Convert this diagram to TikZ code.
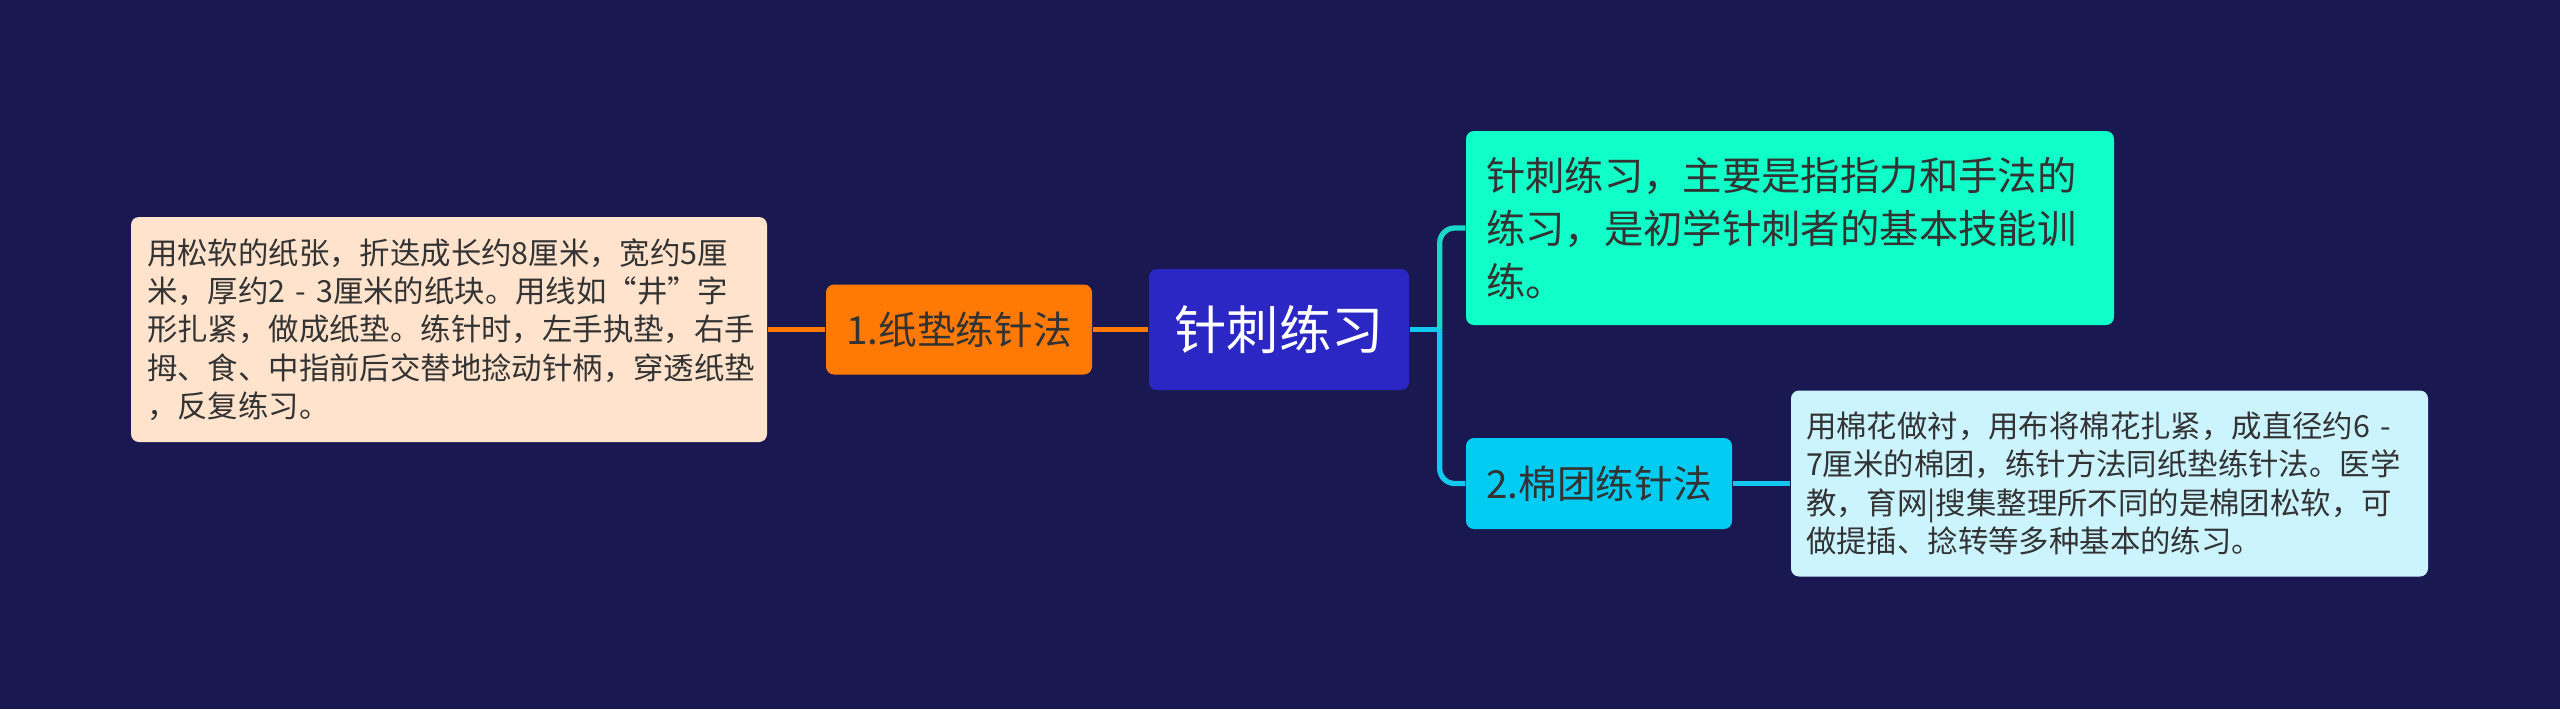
\documentclass[tikz,border=0pt]{standalone}
\usepackage{fontspec}
\setmainfont{Noto Sans CJK SC}
\usepackage{xcolor}
\usepackage{tikz}
\usetikzlibrary{calc}
\definecolor{bgnavy}{HTML}{1A1850}
\definecolor{rootblue}{HTML}{2A27C4}
\definecolor{orangefill}{HTML}{FF7A05}
\definecolor{peachfill}{HTML}{FFE3CD}
\definecolor{mintfill}{HTML}{10FFC8}
\definecolor{cyanfill}{HTML}{02CCF2}
\definecolor{icefill}{HTML}{CCF4FF}
\definecolor{tealline}{HTML}{18D9C8}
\definecolor{cyanline}{HTML}{12C8EE}
\definecolor{darktext}{HTML}{333333}

\begin{document}
\begin{tikzpicture}[
  box/.style={rounded corners=0.08cm, inner sep=0.16cm, text=darktext},
  leaftext/.style={box, align=left, font=\fontsize{8.65}{10.9}\selectfont},
  link/.style={line width=1.5pt}]
  \fill[bgnavy] (0,0) rectangle (25.6,7.09);
  \useasboundingbox (0,0) rectangle (25.6,7.09);
  % centre and the two branches
  \node[box, fill=rootblue, text=white, minimum width=2.6cm, minimum height=1.21cm,
    font=\fontsize{14.9}{18}\selectfont] (root) at (12.79,3.795) {针刺练习};
  \node[box, fill=orangefill, minimum width=2.66cm, minimum height=0.9cm,
    font=\fontsize{11}{13}\selectfont] (paper) at (9.59,3.795) {1.纸垫练针法};
  \node[box, fill=cyanfill, minimum width=2.66cm, minimum height=0.91cm,
    font=\fontsize{11}{13}\selectfont] (cotton) at (15.99,2.255) {2.棉团练针法};
  % text boxes
  \node[leaftext, fill=peachfill, text width=6.04cm, minimum height=2.25cm] (paperinfo) at (4.49,3.795)
    {用松软的纸张，折迭成长约8厘米，宽约5厘\\米，厚约2 - 3厘米的纸块。用线如“井”字\\形扎紧，做成纸垫。练针时，左手执垫，右手\\拇、食、中指前后交替地捻动针柄，穿透纸垫\\，反复练习。};
  \node[box, fill=mintfill, align=left, inner xsep=0.2cm, inner ysep=0.1cm, text width=6.08cm,
    minimum height=1.94cm, font=\fontsize{11.2}{15.1}\selectfont] (intro) at (17.90,4.81)
    {针刺练习，主要是指指力和手法的\\练习，是初学针刺者的基本技能训\\练。};
  \node[leaftext, fill=icefill, inner sep=0.15cm, text width=6.07cm, minimum height=1.86cm] (cottoninfo) at (21.095,2.255)
    {用棉花做衬，用布将棉花扎紧，成直径约6 -\\7厘米的棉团，练针方法同纸垫练针法。医学\\教，育网|搜集整理所不同的是棉团松软，可\\做提插、捻转等多种基本的练习。};
  % connectors
  \coordinate (bus) at ($(root.east)+(0.3,0)$);
  \draw[link, orangefill] (paperinfo.east) -- (paper.west);
  \draw[link, orangefill] (paper.east) -- (root.west);
  \draw[link, cyanline] (root.east) -- (bus);
  \draw[link, tealline, rounded corners=0.15cm] (bus) |- (intro.west);
  \draw[link, cyanline, rounded corners=0.15cm] (bus) |- (cotton.west);
  \draw[link, cyanline] (cotton.east) -- (cottoninfo.west);
\end{tikzpicture}
\end{document}
